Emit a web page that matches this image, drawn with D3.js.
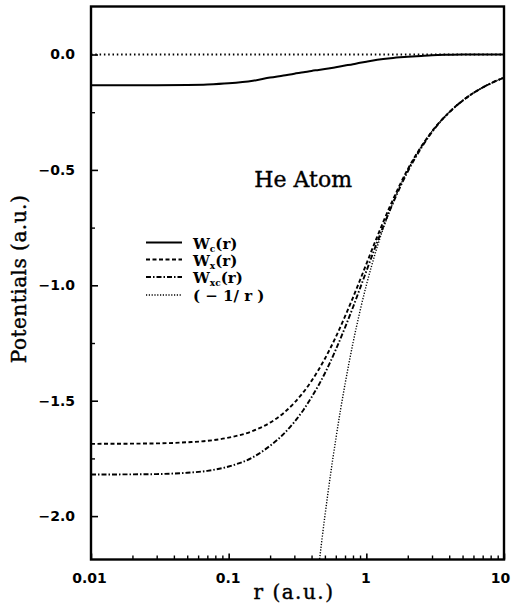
<!DOCTYPE html>
<html><head><meta charset="utf-8">
<script src="https://cdn.jsdelivr.net/npm/d3@7"></script>
<style>body{margin:0;background:#fff}svg{display:block}</style>
</head><body>
<svg id="c" width="512" height="605"></svg>
<script>
// ---- data ----
const rGrid = [0.01, 0.02, 0.03, 0.05, 0.07, 0.1, 0.15, 0.2, 0.25, 0.3, 0.35, 0.4, 0.45, 0.5, 0.6, 0.7, 0.8, 0.9, 1.0, 1.2, 1.5, 2, 2.5, 3, 4, 5, 7, 10];
const wx  = [-1.687, -1.686, -1.685, -1.680, -1.674, -1.660, -1.631, -1.595, -1.554, -1.509, -1.462, -1.414, -1.366, -1.318, -1.224, -1.135, -1.053, -0.977, -0.908, -0.789, -0.652, -0.497, -0.400, -0.333, -0.250, -0.200, -0.143, -0.100];
const wc  = [-0.133, -0.133, -0.133, -0.132, -0.130, -0.125, -0.114, -0.100, -0.091, -0.083, -0.077, -0.071, -0.067, -0.063, -0.055, -0.048, -0.042, -0.036, -0.031, -0.023, -0.016, -0.010, -0.006, -0.003, -0.001, 0, 0, 0];
const wxc = [-1.820, -1.819, -1.818, -1.812, -1.804, -1.785, -1.745, -1.695, -1.645, -1.592, -1.539, -1.485, -1.433, -1.381, -1.279, -1.183, -1.095, -1.013, -0.939, -0.812, -0.668, -0.507, -0.406, -0.336, -0.251, -0.200, -0.143, -0.100];
const rCoul = [0.45, 0.5, 0.55, 0.6, 0.65, 0.7, 0.8, 0.9, 1.0, 1.2, 1.5, 2, 2.5, 3, 4, 5, 7, 10];
const coul  = [-2.222, -2.0, -1.818, -1.667, -1.538, -1.429, -1.25, -1.111, -1.0, -0.833, -0.667, -0.5, -0.4, -0.333, -0.25, -0.2, -0.143, -0.1];

const xTickValues = [0.01, 0.1, 1, 10];
const xTickLabels = ["0.01", "0.1", "1", "10"];
const xMinorTicks = [0.02,0.03,0.04,0.05,0.06,0.07,0.08,0.09,0.2,0.3,0.4,0.5,0.6,0.7,0.8,0.9,2,3,4,5,6,7,8,9];
const yTickValues = [0, -0.5, -1, -1.5, -2];
const yTickLabels = ["0.0", "\u22120.5", "\u22121.0", "\u22121.5", "\u22122.0"];
const yMinorTicks = [-0.25, -0.75, -1.25, -1.75];
const legendNames = [["W","c"], ["W","x"], ["W","xc"], ["( \u2212 1/ r )", null]];

// ---- layout ----
const L = 91, R = 504, T = 6.5, B = 559.5;
const svg = d3.select("#c");
const x = d3.scaleLog().domain([0.01, 10]).range([L, R]);
const y = d3.scaleLinear().domain([-2.188, 0.208]).range([B, T]);

svg.append("defs").append("clipPath").attr("id","clip")
  .append("rect").attr("x",L).attr("y",T).attr("width",R-L).attr("height",B-T);

const tickFont = "'DejaVu Sans', sans-serif";

// bottom axis (ticks inside)
const xAxis = d3.axisBottom(x).tickValues(xTickValues).tickSize(-6).tickPadding(14)
  .tickFormat((d,i) => xTickLabels[i]);
const gx = svg.append("g").attr("transform",`translate(0,${B})`).call(xAxis);
gx.select(".domain").remove();
gx.selectAll("line").attr("stroke","#000").attr("stroke-width",1.6);
gx.selectAll("text").attr("font-family",tickFont).attr("font-weight","bold").attr("font-size",14).attr("fill","#000")
  .attr("dx",(d,i) => i === 0 ? -2 : (i === xTickValues.length-1 ? -4 : -1));
const gxm = svg.append("g").attr("transform",`translate(0,${B})`)
  .call(d3.axisBottom(x).tickValues(xMinorTicks).tickSize(-4).tickFormat(""));
gxm.select(".domain").remove();
gxm.selectAll("line").attr("stroke","#000").attr("stroke-width",1.4);

// left axis
const yAxis = d3.axisLeft(y).tickValues(yTickValues).tickSize(-7).tickPadding(16)
  .tickFormat((d,i) => yTickLabels[i]);
const gy = svg.append("g").attr("transform",`translate(${L},0)`).call(yAxis);
gy.select(".domain").remove();
gy.selectAll("line").attr("stroke","#000").attr("stroke-width",1.6);
gy.selectAll("text").attr("font-family",tickFont).attr("font-weight","bold").attr("font-size",14).attr("fill","#000");
const gym = svg.append("g").attr("transform",`translate(${L},0)`)
  .call(d3.axisLeft(y).tickValues(yMinorTicks).tickSize(-4).tickFormat(""));
gym.select(".domain").remove();
gym.selectAll("line").attr("stroke","#000").attr("stroke-width",1.4);

// frame
svg.append("rect").attr("x",L).attr("y",T).attr("width",R-L).attr("height",B-T)
  .attr("fill","none").attr("stroke","#000").attr("stroke-width",2.4);

// zero reference line (dotted)
svg.append("line").attr("x1",L).attr("x2",R).attr("y1",y(0)).attr("y2",y(0))
  .attr("stroke","#000").attr("stroke-width",1.8).attr("stroke-dasharray","1.5,2.8");

const styles = {
  wc:   {dash:null, w:2},
  wx:   {dash:"4,2.5", w:1.9},
  wxc:  {dash:"5,2,1.5,2", w:1.9},
  coul: {dash:"1.2,1.6", w:1.4}
};
const line = d3.line().x(d => x(d[0])).y(d => y(d[1])).curve(d3.curveMonotoneX);
const plot = svg.append("g").attr("clip-path","url(#clip)");
function draw(rs, vs, st) {
  plot.append("path").datum(rs.map((r,i)=>[r, vs[i]]))
    .attr("d", line).attr("fill","none").attr("stroke","#000")
    .attr("stroke-width", st.w).attr("stroke-dasharray", st.dash);
}
draw(rGrid, wc, styles.wc);
draw(rGrid, wx, styles.wx);
draw(rGrid, wxc, styles.wxc);
draw(rCoul, coul, styles.coul);

// legend
const legY = [242.5, 259.5, 277, 295];
const legStyles = [styles.wc, styles.wx, styles.wxc, styles.coul];
const legFont = "'DejaVu Serif', serif";
legendNames.forEach((nm, i) => {
  svg.append("line").attr("x1",146).attr("x2",182).attr("y1",legY[i]).attr("y2",legY[i])
    .attr("stroke","#000").attr("stroke-width",legStyles[i].w).attr("stroke-dasharray",legStyles[i].dash);
  const t = svg.append("text").attr("x",193).attr("y",legY[i]+6)
    .attr("font-family",legFont).attr("font-weight","bold").attr("font-size",15).attr("fill","#000");
  if (nm[1]) {
    t.append("tspan").text(nm[0]);
    t.append("tspan").attr("font-size",9).attr("dy",3).text(nm[1]);
    t.append("tspan").attr("dy",-3).text("(r)");
  } else {
    t.text(nm[0]);
  }
});

// annotation
svg.append("text").attr("x",352).attr("y",187).attr("text-anchor","end")
  .attr("font-family",legFont).attr("font-size",22).attr("fill","#000")
  .attr("stroke","#000").attr("stroke-width",0.4).text("He Atom");

// axis titles
svg.append("text").attr("x",294).attr("y",599).attr("text-anchor","middle")
  .attr("font-family",legFont).attr("font-size",20).attr("letter-spacing",1.5).attr("fill","#000")
  .attr("stroke","#000").attr("stroke-width",0.4).text("r (a.u.)");
svg.append("text").attr("transform","translate(26,279) rotate(-90)").attr("text-anchor","middle")
  .attr("font-family",legFont).attr("font-size",20).attr("letter-spacing",0.5).attr("fill","#000")
  .attr("stroke","#000").attr("stroke-width",0.4).text("Potentials (a.u.)");
</script>
</body></html>
